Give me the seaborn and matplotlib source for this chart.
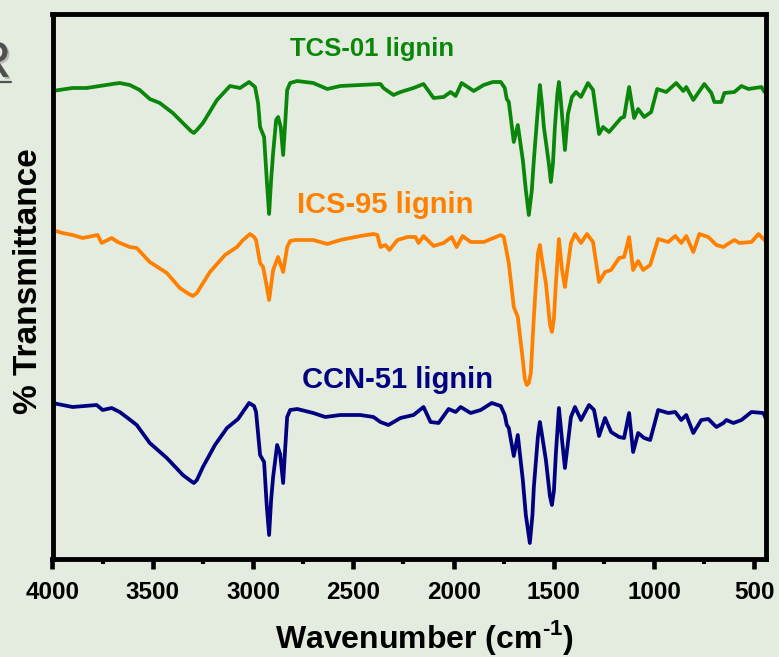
import matplotlib
matplotlib.use("Agg")
import matplotlib.pyplot as plt
import seaborn as sns
import pandas as pd
from matplotlib.lines import Line2D
import matplotlib.patheffects as pe

# ---------------- data ----------------
tcs_wn = [4000, 3900, 3830, 3765, 3700, 3665, 3615, 3565, 3515, 3465,
          3400, 3330, 3310, 3295, 3280, 3250, 3180, 3115, 3065, 3020,
          2990, 2975, 2965, 2945, 2930, 2920, 2910, 2900, 2885, 2875,
          2862, 2850, 2840, 2830, 2815, 2780, 2700, 2630, 2565, 2465,
          2365, 2350, 2300, 2265, 2200, 2150, 2100, 2050, 2015, 1990,
          1960, 1900, 1850, 1805, 1765, 1745, 1735, 1725, 1700, 1680,
          1655, 1640, 1625, 1610, 1600, 1580, 1570, 1560, 1550, 1525,
          1515, 1505, 1495, 1483, 1475, 1467, 1445, 1430, 1410, 1390,
          1365, 1330, 1305, 1275, 1255, 1225, 1165, 1150, 1125, 1100,
          1080, 1050, 1015, 985, 940, 890, 855, 840, 805, 750,
          715, 700, 665, 650, 600, 565, 530, 465, 450]
tcs_t = [46.8, 47.1, 47.1, 47.3, 47.5, 47.6, 47.4, 46.9, 46.0, 45.6,
         44.6, 43.2, 42.8, 42.6, 42.9, 43.6, 45.9, 47.3, 47.1, 47.7,
         47.2, 45.6, 43.2, 42.2, 37.4, 34.5, 37.9, 40.6, 43.9, 44.2,
         43.2, 40.4, 43.5, 46.9, 47.6, 47.8, 47.6, 47.0, 47.3, 47.4,
         47.5, 47.1, 46.4, 46.7, 47.1, 47.5, 46.1, 46.2, 46.7, 46.3,
         47.6, 46.8, 47.4, 47.7, 47.7, 47.1, 46.0, 45.7, 41.7, 43.4,
         39.9, 36.9, 34.4, 36.9, 39.9, 45.0, 47.4, 45.6, 43.2, 39.5,
         37.7, 39.5, 43.2, 46.5, 47.7, 46.2, 40.9, 44.5, 46.2, 46.7,
         46.2, 47.6, 46.9, 42.5, 43.2, 42.7, 44.1, 44.2, 47.2, 44.1,
         45.0, 44.2, 44.7, 47.0, 46.7, 47.6, 46.8, 47.2, 45.9, 47.5,
         46.6, 45.7, 45.7, 46.6, 46.7, 47.3, 47.0, 47.2, 46.7]

ics_wn = [4000, 3950, 3900, 3850, 3775, 3755, 3705, 3675, 3615, 3580,
          3515, 3430, 3365, 3320, 3300, 3280, 3265, 3215, 3140, 3080,
          3050, 3015, 2995, 2985, 2965, 2950, 2935, 2920, 2910, 2900,
          2875, 2850, 2830, 2815, 2790, 2700, 2630, 2565, 2465, 2400,
          2380, 2365, 2340, 2320, 2280, 2230, 2190, 2175, 2150, 2100,
          2050, 2010, 1985, 1955, 1915, 1850, 1765, 1750, 1725, 1700,
          1680, 1655, 1645, 1635, 1625, 1615, 1600, 1580, 1570, 1560,
          1540, 1520, 1510, 1500, 1490, 1475, 1460, 1445, 1415, 1395,
          1365, 1335, 1305, 1275, 1245, 1215, 1175, 1150, 1125, 1105,
          1080, 1055, 1020, 980, 930, 895, 865, 840, 805, 775,
          730, 690, 655, 625, 600, 575, 515, 480, 450]
ics_t = [32.9, 32.6, 32.4, 32.1, 32.4, 31.6, 32.1, 31.7, 31.2, 31.1,
         29.7, 28.6, 27.1, 26.5, 26.3, 26.6, 27.1, 28.7, 30.4, 31.2,
         31.9, 32.5, 32.2, 31.9, 29.6, 29.2, 27.6, 25.9, 27.4, 28.9,
         30.2, 28.7, 31.2, 31.8, 31.9, 31.9, 31.5, 31.9, 32.3, 32.5,
         32.4, 31.2, 31.4, 30.9, 31.9, 32.2, 32.2, 31.6, 32.3, 31.3,
         31.6, 32.2, 31.2, 32.3, 31.7, 31.7, 32.4, 32.2, 29.6, 25.2,
         24.2, 19.9, 18.0, 17.4, 17.6, 18.6, 24.2, 30.5, 31.4, 30.0,
         27.6, 23.5, 22.7, 24.0, 27.6, 32.0, 29.0, 27.2, 31.6, 32.5,
         31.6, 32.5, 31.7, 27.7, 28.7, 28.9, 30.1, 30.2, 32.2, 28.9,
         29.8, 28.9, 29.4, 32.0, 31.7, 32.3, 31.6, 32.3, 30.7, 32.5,
         32.2, 31.4, 31.2, 31.6, 31.9, 31.6, 31.7, 32.5, 31.9]

ccn_wn = [4000, 3900, 3780, 3750, 3705, 3665, 3625, 3580, 3515, 3430,
          3350, 3310, 3295, 3280, 3250, 3190, 3130, 3075, 3020, 2995,
          2985, 2965, 2945, 2932, 2920, 2910, 2900, 2880, 2865, 2850,
          2840, 2830, 2815, 2780, 2700, 2640, 2565, 2465, 2400, 2365,
          2325, 2265, 2200, 2150, 2115, 2075, 2025, 1990, 1965, 1915,
          1865, 1810, 1765, 1745, 1735, 1725, 1700, 1680, 1655, 1640,
          1620, 1607, 1600, 1580, 1570, 1560, 1540, 1520, 1510, 1500,
          1490, 1475, 1460, 1445, 1415, 1395, 1365, 1325, 1300, 1275,
          1245, 1215, 1175, 1150, 1125, 1105, 1080, 1050, 1020, 980,
          930, 895, 865, 840, 805, 765, 730, 690, 655, 640,
          605, 565, 515, 455, 445]
ccn_t = [15.6, 15.2, 15.4, 14.9, 15.1, 14.7, 14.1, 13.4, 11.6, 10.1,
         8.4, 7.8, 7.6, 7.9, 9.2, 11.4, 13.1, 14.0, 15.6, 15.3,
         14.7, 10.4, 9.7, 5.4, 2.4, 5.9, 8.2, 11.4, 10.5, 7.6,
         11.0, 14.2, 14.9, 15.0, 14.6, 14.2, 14.4, 14.4, 14.2, 13.7,
         13.4, 14.1, 14.4, 15.2, 13.7, 13.6, 15.0, 14.7, 15.2, 14.6,
         14.9, 15.6, 15.3, 14.4, 13.4, 13.1, 10.3, 12.4, 7.9, 4.4,
         1.6, 4.4, 7.2, 12.2, 13.7, 12.5, 9.9, 6.3, 5.4, 6.8,
         10.6, 15.1, 12.0, 9.1, 14.2, 15.2, 13.9, 15.4, 14.9, 12.3,
         14.1, 12.7, 12.2, 12.1, 14.6, 10.7, 12.6, 12.1, 11.9, 14.9,
         14.6, 14.7, 13.9, 14.4, 12.6, 13.9, 14.0, 13.2, 13.6, 13.9,
         13.6, 13.9, 14.7, 14.6, 14.1]

sample_names = ["TCS-01 lignin", "ICS-95 lignin", "CCN-51 lignin"]
sample_colors = ["#0a860a", "#ff8000", "#000080"]
x_ticks = [4000, 3500, 3000, 2500, 2000, 1500, 1000, 500]
x_minor = [3750, 3250, 2750, 2250, 1750, 1250, 750]

# ---------------- style ----------------
BG = "#e4ecdf"
sns.set_theme(style="white", rc={
    "figure.facecolor": BG,
    "axes.facecolor": BG,
    "savefig.facecolor": BG,
    "text.color": "black",
    "axes.labelcolor": "black",
    "xtick.color": "black",
    "ytick.color": "black",
})
plt.rcParams["font.family"] = ["Liberation Sans", "DejaVu Sans"]
plt.rcParams["font.weight"] = "bold"
plt.rcParams["mathtext.fontset"] = "custom"
plt.rcParams["mathtext.bf"] = "Liberation Sans:bold"
plt.rcParams["mathtext.rm"] = "Liberation Sans:bold"

df = pd.concat([
    pd.DataFrame({"wn": tcs_wn, "t": tcs_t, "sample": sample_names[0]}),
    pd.DataFrame({"wn": ics_wn, "t": ics_t, "sample": sample_names[1]}),
    pd.DataFrame({"wn": ccn_wn, "t": ccn_t, "sample": sample_names[2]}),
])

fig = plt.figure(figsize=(7.79, 6.57), dpi=100)
W, H = 779, 657
ax = fig.add_axes([52.5 / W, 1 - 559 / H, 713 / W, (559 - 14) / H])

sns.lineplot(data=df, x="wn", y="t", hue="sample", palette=sample_colors,
             hue_order=sample_names, estimator=None, sort=False,
             linewidth=2.7, legend=False, ax=ax)
for ln in ax.lines:
    ln.set_solid_joinstyle("round")
    ln.set_solid_capstyle("round")

ax.set_xlim(4000, 445)
ax.set_ylim(0, 54.5)
ax.set_xticks(x_ticks)
ax.set_xticklabels([str(v) for v in x_ticks], fontsize=17.5,
                   fontweight="bold", color="black")
ax.set_xticks(x_minor, minor=True)
ax.set_yticks([])
ax.tick_params(axis="x", which="major", direction="out", length=7.5,
               width=3.3, color="black", labelcolor="black", pad=8,
               bottom=True, top=False)
ax.tick_params(axis="x", which="minor", direction="out", length=3.5,
               width=3.0, color="black", bottom=True, top=False)
for s in ax.spines.values():
    s.set_visible(True)
    s.set_linewidth(3.5)
    s.set_color("black")

ax.set_xlabel(r"Wavenumber (cm$^{\text{-1}}$)", fontsize=23,
              fontweight="bold", va="baseline", color="black")
ax.xaxis.set_label_coords(0.522, -0.163)
ax.set_ylabel("% Transmittance", fontsize=24, fontweight="bold",
              va="center", color="black")
ax.yaxis.set_label_coords(-0.034, 0.51)

# sample labels
label_pos = [(2405, 50.3), (2340, 34.6), (2280, 17.1)]
label_size = [18.5, 21, 21]
for name, col, (lx, ly), fs in zip(sample_names, sample_colors, label_pos, label_size):
    ax.text(lx, ly, name, color=col, fontsize=fs, fontweight="bold",
            ha="center", va="baseline")

# partially visible panel title at top-left (cut by the figure edge, as in the reference)
t = fig.text(11 / W, 1 - 77 / H, "FTIR", ha="right", va="baseline",
             fontsize=37, fontweight="normal", color="#505050")
t.set_path_effects([pe.withSimplePatchShadow(offset=(1.5, -1.5),
                                             shadow_rgbFace="#9a9a9a",
                                             alpha=0.6), pe.Normal()])
fig.add_artist(Line2D([0, 10.5 / W], [1 - 82 / H, 1 - 82 / H],
                      transform=fig.transFigure, color="#505050",
                      linewidth=1.6))

fig.savefig("out.png", dpi=100)
